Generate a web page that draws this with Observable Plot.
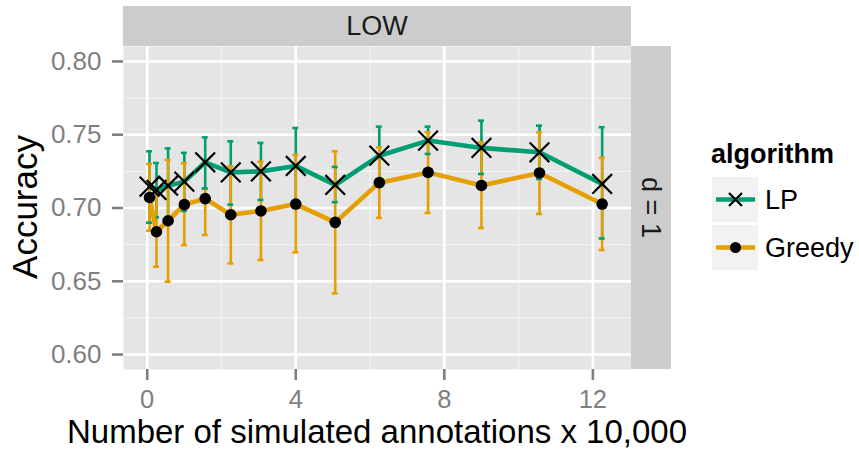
<!DOCTYPE html>
<html>
<head>
<meta charset="utf-8">
<script src="https://cdn.jsdelivr.net/npm/d3@7"></script>
<script src="https://cdn.jsdelivr.net/npm/@observablehq/plot@0.6"></script>
<style>
  html, body { margin: 0; padding: 0; background: #ffffff; }
  svg { display: block; }
</style>
</head>
<body>
<div id="chart"></div>
<script>
// ---- data ----
const annotations = [0.0625, 0.25, 0.5625, 1, 1.5625, 2.25, 3.0625, 4, 5.0625, 6.25, 7.5625, 9, 10.5625, 12.25];
const lpMean   = [0.7146, 0.7123, 0.7152, 0.7180, 0.7312, 0.7243, 0.7250, 0.7287, 0.7157, 0.7357, 0.7460, 0.7410, 0.7380, 0.7164];
const lpLow    = [0.6900, 0.6936, 0.6900, 0.6980, 0.7134, 0.7023, 0.7055, 0.7030, 0.7040, 0.7160, 0.7369, 0.7232, 0.7198, 0.6792];
const lpHigh   = [0.7387, 0.7307, 0.7407, 0.7376, 0.7482, 0.7455, 0.7444, 0.7546, 0.7280, 0.7555, 0.7555, 0.7596, 0.7562, 0.7551];
const grMean   = [0.7072, 0.6838, 0.6913, 0.7023, 0.7064, 0.6954, 0.6980, 0.7027, 0.6902, 0.7173, 0.7243, 0.7154, 0.7239, 0.7027];
const grLow    = [0.6845, 0.6599, 0.6497, 0.6747, 0.6816, 0.6622, 0.6645, 0.6697, 0.6417, 0.6932, 0.6966, 0.6863, 0.6959, 0.6713];
const grHigh   = [0.7300, 0.7096, 0.7328, 0.7305, 0.7130, 0.7284, 0.7316, 0.7362, 0.7387, 0.7414, 0.7516, 0.7448, 0.7516, 0.7342];

const algorithms = ["LP", "Greedy"];
const algoColors = ["#009E73", "#E69F00"];
const xTicks = [0, 4, 8, 12];
const xMinor = [2, 6, 10];
const yTicks = [0.60, 0.65, 0.70, 0.75, 0.80];
const yMinor = [0.625, 0.675, 0.725, 0.775];
const facetTop = "LOW";
const facetRight = "d = 1";
const xTitle = "Number of simulated annotations x 10,000";
const yTitle = "Accuracy";
const legendTitle = "algorithm";

// ---- tidy rows ----
const lpRows = annotations.map((x, i) => ({x, y: lpMean[i], lo: lpLow[i], hi: lpHigh[i], algorithm: "LP"}));
const grRows = annotations.map((x, i) => ({x, y: grMean[i], lo: grLow[i], hi: grHigh[i], algorithm: "Greedy"}));
const rows = lpRows.concat(grRows);
const capHalf = 0.08;

const FONT = "'Liberation Sans', Arial, Helvetica, sans-serif";

const svg = Plot.plot({
  width: 859,
  height: 449,
  marginLeft: 123,
  marginRight: 228,
  marginTop: 46,
  marginBottom: 80,
  style: {fontFamily: FONT, background: "#ffffff", overflow: "visible"},
  x: {domain: [-0.638, 13.04]},
  y: {domain: [0.5898, 0.8102]},
  color: {domain: algorithms, range: algoColors},
  marks: [
    Plot.frame({fill: "#e5e5e5", stroke: null}),
    Plot.ruleY(yMinor, {stroke: "#f2f2f2", strokeWidth: 1.3}),
    Plot.ruleX(xMinor, {stroke: "#f2f2f2", strokeWidth: 1.3}),
    Plot.ruleY(yTicks, {stroke: "#ffffff", strokeWidth: 2.6}),
    Plot.ruleX(xTicks, {stroke: "#ffffff", strokeWidth: 2.6}),
    // error bars
    Plot.ruleX(rows, {x: "x", y1: "lo", y2: "hi", stroke: "algorithm", strokeWidth: 2.6}),
    Plot.ruleY(rows, {y: "hi", x1: d => d.x - capHalf, x2: d => d.x + capHalf, stroke: "algorithm", strokeWidth: 2.6}),
    Plot.ruleY(rows, {y: "lo", x1: d => d.x - capHalf, x2: d => d.x + capHalf, stroke: "algorithm", strokeWidth: 2.6}),
    // lines
    Plot.line(rows, {x: "x", y: "y", z: "algorithm", stroke: "algorithm", strokeWidth: 4.6}),
    // points
    Plot.dot(lpRows, {x: "x", y: "y", symbol: "times", r: 9, stroke: "#000000", strokeWidth: 2.2}),
    Plot.dot(grRows, {x: "x", y: "y", r: 5.8, fill: "#000000", stroke: null}),
    // axes
    Plot.axisY(yTicks, {tickFormat: d3.format(".2f"), tickSize: 11, tickPadding: 11, fontSize: 26,
      color: "#7f7f7f", strokeWidth: 2.6, label: null}),
    Plot.axisX(xTicks, {tickFormat: d3.format("d"), tickSize: 11, tickPadding: 9, fontSize: 25.5,
      color: "#7f7f7f", strokeWidth: 2.6, label: null})
  ]
});

document.getElementById("chart").appendChild(svg);

const s = d3.select(svg);
const panelL = 123, panelR = 631, panelT = 46, panelB = 369;

// top strip
s.append("rect").attr("x", panelL).attr("y", 6).attr("width", panelR - panelL).attr("height", panelT - 6).attr("fill", "#cccccc");
s.append("text").attr("x", (panelL + panelR) / 2).attr("y", 26).attr("dy", "0.35em")
  .attr("text-anchor", "middle").attr("font-size", 27).attr("font-family", FONT).attr("fill", "#1a1a1a").text(facetTop);

// right strip
s.append("rect").attr("x", panelR).attr("y", panelT).attr("width", 40).attr("height", panelB - panelT).attr("fill", "#cccccc");
s.append("text").attr("transform", `translate(${panelR + 20},${(panelT + panelB) / 2}) rotate(90)`)
  .attr("dy", "0.35em").attr("text-anchor", "middle").attr("font-size", 27).attr("font-family", FONT)
  .attr("fill", "#1a1a1a").text(facetRight);

// axis titles
s.append("text").attr("x", (panelL + panelR) / 2).attr("y", 442.5).attr("text-anchor", "middle")
  .attr("font-size", 33).attr("font-family", FONT).attr("fill", "#000000").text(xTitle);
s.append("text").attr("transform", "translate(37,207) rotate(-90)").attr("text-anchor", "middle")
  .attr("font-size", 35).attr("font-family", FONT).attr("fill", "#000000").text(yTitle);

// legend
s.append("text").attr("x", 711).attr("y", 163).attr("text-anchor", "start").attr("font-size", 27).attr("font-weight", "bold")
  .attr("font-family", FONT).attr("fill", "#000000").text(legendTitle);
const keyY = [177, 225];
algorithms.forEach((a, i) => {
  const g = s.append("g");
  g.append("rect").attr("x", 712).attr("y", keyY[i]).attr("width", 46).attr("height", 45).attr("fill", "#f2f2f2");
  const cy = keyY[i] + 22.5;
  g.append("line").attr("x1", 716).attr("x2", 755).attr("y1", cy).attr("y2", cy)
    .attr("stroke", algoColors[i]).attr("stroke-width", 4.6);
  if (a === "LP") {
    const h = 6.5;
    g.append("path").attr("d", `M${735.5 - h},${cy - h}L${735.5 + h},${cy + h}M${735.5 - h},${cy + h}L${735.5 + h},${cy - h}`)
      .attr("stroke", "#000").attr("stroke-width", 2.2);
  } else {
    g.append("circle").attr("cx", 735.5).attr("cy", cy).attr("r", 5.5).attr("fill", "#000");
  }
  g.append("text").attr("x", 765).attr("y", cy).attr("dy", "0.36em").attr("text-anchor", "start").attr("font-size", 27)
    .attr("font-family", FONT).attr("fill", "#000000").text(a);
});
</script>
</body>
</html>
